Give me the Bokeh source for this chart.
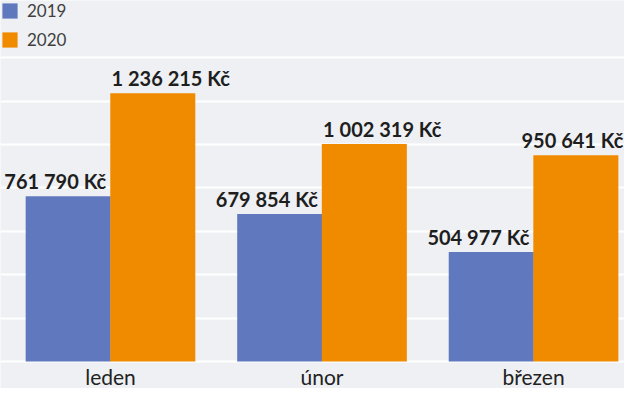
from bokeh.plotting import figure
from bokeh.models import ColumnDataSource, Range1d, Grid, FixedTicker, Legend, LegendItem
from bokeh.transform import dodge
from bokeh.core.properties import value
from bokeh.embed import file_html
from bokeh.resources import INLINE

months = ["leden", "únor", "březen"]
values_2019 = [761790, 679854, 504977]
values_2020 = [1236215, 1002319, 950641]
series_names = ["2019", "2020"]
grid_values = [0, 200000, 400000, 600000, 800000, 1000000, 1200000, 1400000]

def fmt(v):
    return "{:,}".format(v).replace(",", " ") + " Kč"

X_START, X_END = -0.520, 2.430
n = len(months)
xs = list(range(n))
# orange labels start at the group centre; the last one is kept inside the frame
x20 = [x + 0.005 for x in xs]
a20 = ["left"] * n
x20[-1] = X_END - 0.005
a20[-1] = "right"

src = ColumnDataSource(dict(
    x=xs,
    month=months,
    v19=values_2019,
    v20=values_2020,
    l19=[fmt(v) for v in values_2019],
    l20=[fmt(v) for v in values_2020],
    x20=x20,
    a20=a20,
    zero=[0] * n,
))

BLUE = "#6079be"
ORANGE = "#f08b00"
BG = "#eef0f3"

p = figure(width=624, height=388, output_backend="svg", toolbar_location=None,
           x_axis_type=None, y_axis_type=None,
           x_range=Range1d(X_START, X_END), y_range=Range1d(-124424, 1663594),
           min_border=0, background_fill_color=BG, border_fill_color=BG,
           outline_line_color=None)

p.add_layout(Grid(dimension=1, ticker=FixedTicker(ticks=grid_values),
                  grid_line_color="white", grid_line_width=2))

r19 = p.vbar(x=dodge("x", -0.2, range=p.x_range), top="v19", width=0.402,
             source=src, fill_color=BLUE, line_color=None)
r20 = p.vbar(x=dodge("x", 0.2, range=p.x_range), top="v20", width=0.402,
             source=src, fill_color=ORANGE, line_color=None)

p.text(x=dodge("x", -0.02, range=p.x_range), y="v19", text="l19", source=src,
       text_align="right", text_baseline="bottom", y_offset=-3,
       text_font=value("Lato"), text_font_style="bold", text_font_size="20px",
       text_color="#1e1e1e")
p.text(x="x20", y="v20", text="l20", source=src,
       text_align="a20", text_baseline="bottom", y_offset=-3,
       text_font=value("Lato"), text_font_style="bold", text_font_size="20px",
       text_color="#1e1e1e")

p.text(x="x", y="zero", text="month", source=src,
       text_align="center", text_baseline="top", y_offset=2,
       text_font=value("Lato"), text_font_size="21px", text_color="#222222")

legend = Legend(items=[LegendItem(label=series_names[0], renderers=[r19]),
                       LegendItem(label=series_names[1], renderers=[r20])],
                location="top_left", margin=0, padding=1,
                glyph_width=19, glyph_height=19, label_standoff=8, spacing=8,
                label_height=20,
                label_text_font="Lato", label_text_font_size="17px",
                label_text_color="#404040",
                background_fill_alpha=0, border_line_color=None)
p.add_layout(legend)

open("out.html", "w").write(file_html(p, INLINE))
